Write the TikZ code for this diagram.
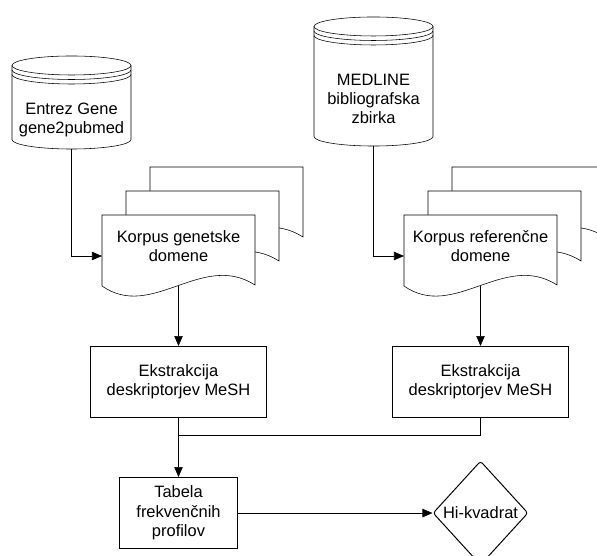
\documentclass[tikz,border=0pt]{standalone}
\usepackage{fontspec}
\setmainfont{Liberation Sans}
\usetikzlibrary{positioning, arrows.meta, shapes.geometric, calc, backgrounds}

\newcommand{\narisidok}[1]{%
  \draw[fill=white, shift={#1}] (0,0) -- (153,0) -- (153,-70)
    .. controls (100,-36) and (50,-106) .. (0,-71) -- cycle;%
}
\newcommand{\narisibazo}[1]{%
  \draw ($(#1.north west)+(0,-9.5)$) -- ($(#1.south west)+(0,9.5)$)
    arc[start angle=180, end angle=360, x radius=59.5, y radius=9.5]
    -- ($(#1.north east)+(0,-9.5)$);
  \draw ($(#1.north)+(0,-9.5)$) ellipse[x radius=59.5, y radius=9.5];
  \draw ($(#1.north west)+(0,-14)$) arc[start angle=180, end angle=360, x radius=59.5, y radius=9.5];
  \draw ($(#1.north west)+(0,-18.5)$) arc[start angle=180, end angle=360, x radius=59.5, y radius=9.5];%
}

\begin{document}
\begin{tikzpicture}[
        x=0.025cm, y=0.025cm,
        line width=0.7pt,
        font=\fontsize{11.7}{13.8}\selectfont,
        baza/.style={
            rectangle,
            minimum width=2.975cm,
            inner sep=0,
            outer sep=0
        },
        besedilo/.style={
            align=center,
            inner sep=0
        },
        dokument/.style={
            rectangle,
            minimum width=3.825cm,
            minimum height=1.55cm,
            inner sep=0,
            outer sep=0,
            align=center
        },
        proces/.style={
            rectangle,
            draw,
            minimum width=4.4cm,
            minimum height=1.775cm,
            inner sep=0,
            align=center
        },
        odlocitev/.style={
            diamond,
            draw,
            minimum width=2.375cm,
            minimum height=2.6cm,
            inner sep=0,
            rounded corners=2pt
        },
        puscica/.style={
            -{Triangle[length=2.5mm, width=2.1mm]}
        }
    ]

        \useasboundingbox (0,0) rectangle (597,-556);

        \node[baza, minimum height=2.325cm] (entrez) at (71.5,-102.5) {};
        \node[besedilo] (entrezt) at ([yshift=-0.4375cm]entrez.center) {Entrez Gene\\gene2pubmed};
        \node[baza, minimum height=3.225cm] (medline) at (373.5,-81.5) {};
        \node[besedilo] (medlinet) at ([yshift=-0.4375cm]medline.center) {MEDLINE\\bibliografska\\zbirka};

        \node[dokument] (korpg) at (178.5,-246) {Korpus genetske\\domene};
        \node[dokument] (korpr) at (480.5,-246) {Korpus referenčne\\domene};

        \node[proces, below=1.725cm of korpg] (ekstg) {Ekstrakcija\\deskriptorjev MeSH};
        \node[proces, below=1.725cm of korpr] (ekstr) {Ekstrakcija\\deskriptorjev MeSH};
        \node[proces, minimum width=2.95cm, below=1.475cm of ekstg] (tabela) {Tabela\\frekvenčnih\\profilov};
        \node[odlocitev] (hikv) at (ekstr |- tabela) {Hi-kvadrat};

        \coordinate (zdruzi) at ($(ekstg.south)+(0,-17)$);

        \begin{pgfonlayer}{background}
            \narisidok{($(korpg.north west)+(48,48)$)}
            \narisidok{($(korpg.north west)+(24,24)$)}
            \narisidok{(korpg.north west)}
            \narisidok{($(korpr.north west)+(48,48)$)}
            \narisidok{($(korpr.north west)+(24,24)$)}
            \narisidok{(korpr.north west)}
        \end{pgfonlayer}
        \narisibazo{entrez}
        \narisibazo{medline}

        \draw[puscica] (entrez.south) |- ([yshift=-0.25cm]korpg.west);
        \draw[puscica] (medline.south) |- ([yshift=-0.25cm]korpr.west);
        \draw[puscica] ([yshift=-0.225cm]korpg.south) -- (ekstg);
        \draw[puscica] ([yshift=-0.225cm]korpr.south) -- (ekstr);
        \draw (ekstr.south) |- (zdruzi);
        \draw[puscica] (ekstg) -- (tabela);
        \draw[puscica] (tabela) -- (hikv);

    \end{tikzpicture}
\end{document}
